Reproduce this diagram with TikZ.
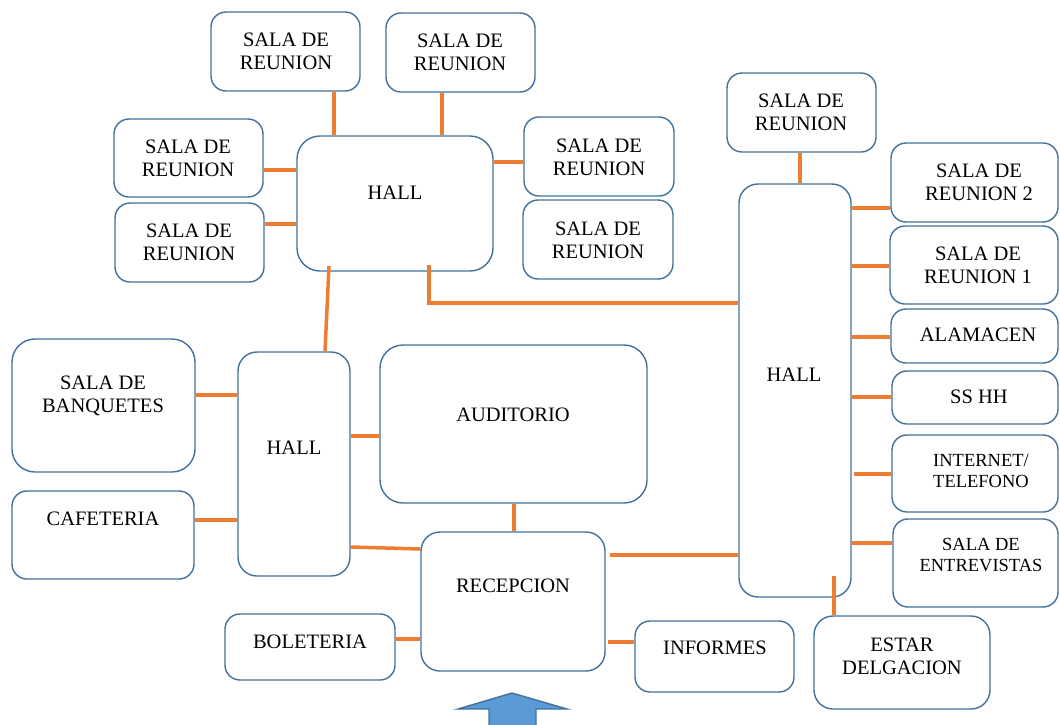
\documentclass[tikz,border=0pt]{standalone}
\usepackage{fontspec}
\setmainfont{Liberation Serif}
\begin{document}
\begin{tikzpicture}[x=1pt,y=-1pt,
  box/.style={draw=boxblue,line width=1.4pt,rounded corners=15pt,fill=white,inner sep=0pt},
  midbox/.style={box,rounded corners=19pt},
  bigbox/.style={box,rounded corners=23pt},
  lbl/.style={align=center,inner sep=0pt,font=\fontsize{20.5}{23.3}\selectfont},
  slbl/.style={align=center,inner sep=0pt,font=\fontsize{18.5}{21}\selectfont},
  conn/.style={draw=connorange,line width=3.5pt}]
\definecolor{boxblue}{HTML}{41719C}
\definecolor{connorange}{HTML}{ED7D31}
\definecolor{arrowfill}{HTML}{5B9BD5}
\useasboundingbox (0,0) rectangle (1060,724);
\newcommand{\bx}[6]{\node[#1,minimum width={#5-#3},minimum height={#6-#4}] (#2) at ({(#3+#5)/2},{(#4+#6)/2}) {};}
% boxes
\bx{box}{srT1}{211}{12}{360}{91}
\bx{box}{srT2}{386}{13}{535}{92}
\bx{box}{srL1}{114}{119}{263}{197}
\bx{box}{srL2}{115}{203}{264}{282}
\bx{bigbox}{hallT}{297}{136}{493}{271}
\bx{box}{srR1}{524}{117}{674}{196}
\bx{box}{srR2}{523}{200}{673}{279}
\bx{box}{srH}{727}{73}{876}{152}
\bx{midbox}{hallR}{739}{184}{851}{597}
\bx{box}{sr2}{891}{143}{1058}{222}
\bx{box}{sr1}{890}{226}{1058}{304}
\bx{box}{alm}{891}{309}{1058}{363}
\bx{box}{sshh}{892}{371}{1058}{424}
\bx{box}{inet}{892}{435}{1058}{512}
\bx{box}{entr}{893}{519}{1058}{607}
\bx{midbox}{estar}{814}{616}{990}{709}
\bx{box}{inf}{635}{621}{794}{692}
\bx{midbox}{recep}{421}{532}{605}{671}
\bx{bigbox}{aud}{380}{345}{647}{503}
\bx{midbox}{hallL}{238}{352}{350}{576}
\bx{bigbox}{banq}{12}{339}{195}{472}
\bx{box}{cafe}{12}{491}{194}{579}
\bx{box}{bol}{225}{614}{395}{680}
% labels
\node[lbl] (tT1) at (286,51) {SALA DE\\REUNION};
\node[lbl] (tT2) at (460,52) {SALA DE\\REUNION};
\node[lbl] (tL1) at (188,158) {SALA DE\\REUNION};
\node[lbl] (tL2) at (189,242) {SALA DE\\REUNION};
\node[lbl] (thT) at (395,193) {HALL};
\node[lbl] (tR1) at (599,157) {SALA DE\\REUNION};
\node[lbl] (tR2) at (598,240) {SALA DE\\REUNION};
\node[lbl] (tH) at (801,112) {SALA DE\\REUNION};
\node[lbl] (thR) at (794,375) {HALL};
\node[lbl] (t2) at (979,182) {SALA DE\\REUNION 2};
\node[lbl] (t1) at (978,265) {SALA DE\\REUNION 1};
\node[lbl] (talm) at (978,335) {ALAMACEN};
\node[lbl] (tss) at (979,397) {SS HH};
\node[slbl] (tin) at (981,471) {INTERNET/\\TELEFONO};
\node[slbl] (ten) at (981,555) {SALA DE\\ENTREVISTAS};
\node[lbl] (tes) at (902,656) {ESTAR\\DELGACION};
\node[lbl] (tinf) at (715,648) {INFORMES};
\node[lbl] (trec) at (513,586) {RECEPCION};
\node[lbl] (taud) at (513,415) {AUDITORIO};
\node[lbl] (thL) at (294,448) {HALL};
\node[lbl] (tbq) at (103,396) {SALA DE\\BANQUETES};
\node[lbl] (tcf) at (103,519) {CAFETERIA};
\node[lbl] (tbo) at (310,642) {BOLETERIA};
% connectors
\draw[conn] (srT1.south -| 334,0) -- (hallT.north -| 334,0);
\draw[conn] (srT2.south -| 442,0) -- (hallT.north -| 442,0);
\draw[conn] (srL1.east |- 0,170) -- (hallT.west |- 0,170);
\draw[conn] (srL2.east |- 0,224) -- (hallT.west |- 0,224);
\draw[conn] (hallT.east |- 0,162) -- (srR1.west |- 0,162);
\draw[conn] (srH.south -| 800,0) -- (hallR.north -| 800,0);
\coordinate (h7) at (429,265);
\draw[conn] (h7) |- (hallR.west |- 0,303);
\coordinate (h8) at (329,266);
\draw[conn] (h8) -- (hallL.north -| 325,0);
\draw[conn] (banq.east |- 0,395) -- (hallL.west |- 0,395);
\draw[conn] (cafe.east |- 0,520) -- (hallL.west |- 0,520);
\draw[conn] (hallL.east |- 0,436) -- (aud.west |- 0,436);
\draw[conn] (hallL.east |- 0,547) -- (recep.west |- 0,549);
\draw[conn] (aud.south -| 514,0) -- (recep.north -| 514,0);
\draw[conn] (bol.east |- 0,639) -- (recep.west |- 0,639);
\coordinate (r15) at (610,555);
\draw[conn] (r15) -- (hallR.west |- 0,555);
\coordinate (r16) at (608,642);
\draw[conn] (r16) -- (inf.west |- 0,642);
\coordinate (e17) at (834,576);
\draw[conn] (e17) -- (estar.north -| 834,0);
\draw[conn] (hallR.east |- 0,208) -- (sr2.west |- 0,208);
\draw[conn] (hallR.east |- 0,266) -- (sr1.west |- 0,266);
\draw[conn] (hallR.east |- 0,337) -- (alm.west |- 0,337);
\draw[conn] (hallR.east |- 0,397) -- (sshh.west |- 0,397);
\draw[conn] ([xshift=2pt]hallR.east |- 0,474) -- (inet.west |- 0,474);
\draw[conn] (hallR.east |- 0,543) -- (entr.west |- 0,543);
% entrance arrow
\draw[draw=boxblue,fill=arrowfill,line width=1.4pt,line join=miter]
  (512,693) -- (567,709) -- (536,709) -- (536,730) -- (489,730) -- (489,709) -- (458,709) -- cycle;
\end{tikzpicture}
\end{document}
